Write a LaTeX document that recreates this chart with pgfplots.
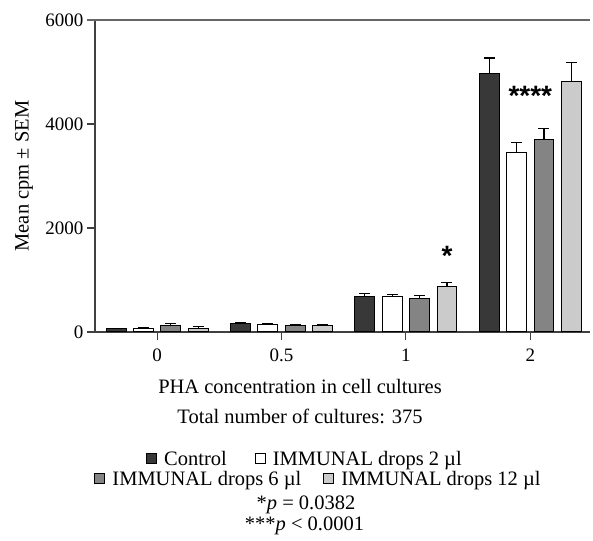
\documentclass[border=0pt]{standalone}
\usepackage{fontspec}
\setmainfont{Liberation Serif}
\newfontfamily\starfont{Liberation Sans}
\usepackage{pgfplots}
\pgfplotsset{compat=1.18}
\definecolor{cCtrl}{HTML}{383838}
\definecolor{cSix}{HTML}{848484}
\definecolor{cTwelve}{HTML}{CBCBCB}
\begin{document}
\begin{tikzpicture}
\begin{axis}[
  name=main,
  scale only axis, width=495pt, height=312pt,
  xmin=-0.5, xmax=3.48, ymin=0, ymax=6000,
  axis x line*=bottom, axis y line*=left,
  xtick={0,1,2,3}, xticklabels={0,0.5,1,2},
  ytick={0,2000,4000,6000},
  tick align=outside, major tick length=8pt,
  tick style={black!75, line width=1.1pt},
  axis line style={black!75, line width=1.3pt},
  scaled y ticks=false,
  yticklabel style={/pgf/number format/.cd, 1000 sep={}},
  xticklabel style={yshift=-5pt},
  /pgf/number format/assume math mode=true,
  tick label style={font=\fontsize{19}{22}\selectfont},
  ylabel={Mean cpm ± SEM},
  every axis y label/.style={at={(rel axis cs:0,0.5)}, xshift=-71pt, rotate=90, anchor=center, font=\fontsize{20.5}{24}\selectfont},
  xlabel={PHA concentration in cell cultures\\Total number of cultures: 375},
  every axis x label/.style={at={(rel axis cs:0,0)}, xshift=205pt, yshift=-70pt, anchor=center, align=center, font=\fontsize{20.5}{30}\selectfont},
  legend image code/.code={\draw[#1] (0pt,-5pt) rectangle (10pt,5pt);},
  legend columns=-1,
  legend style={at={(0,0)}, xshift=210pt, yshift=-127pt, anchor=center, draw=none, fill=none,
    font=\fontsize{20.5}{24}\selectfont,
    /tikz/every odd column/.append style={column sep=5pt},
    /tikz/every even column/.append style={column sep=26pt}},
  error bars/error bar style={line width=1.1pt, black},
  error bars/error mark options={rotate=90, mark size=5.5pt, line width=1.1pt, black},
]
\addplot[ybar, bar width=0.16, bar shift=0, fill=cCtrl, draw=black, line width=1pt,
  error bars/.cd, y dir=plus, y explicit]
  coordinates {(-0.33,70) +- (0,5) (0.67,155) +- (0,18) (1.67,680) +- (0,65) (2.67,4980) +- (0,290)};
\addplot[ybar, bar width=0.16, bar shift=0, fill=white, draw=black, line width=1pt,
  error bars/.cd, y dir=plus, y explicit]
  coordinates {(-0.11,75) +- (0,20) (0.89,150) +- (0,12) (1.89,680) +- (0,45) (2.89,3450) +- (0,200)};
\addplot[ybar, bar width=0.16, bar shift=0, fill=cSix, draw=black, line width=1pt,
  error bars/.cd, y dir=plus, y explicit]
  coordinates {(0.11,130) +- (0,25) (1.11,130) +- (0,6) (2.11,635) +- (0,63) (3.11,3710) +- (0,210)};
\addplot[ybar, bar width=0.16, bar shift=0, fill=cTwelve, draw=black, line width=1pt,
  error bars/.cd, y dir=plus, y explicit]
  coordinates {(0.33,75) +- (0,30) (1.33,130) +- (0,6) (2.33,870) +- (0,85) (3.33,4820) +- (0,370)};
\legend{Control, IMMUNAL drops 2 µl}
\node[anchor=base, font=\starfont\bfseries\fontsize{28}{28}\selectfont] at (axis cs:3,4352) {****};
\node[anchor=base, font=\starfont\bfseries\fontsize{28}{28}\selectfont] at (axis cs:2.33,1275) {*};
\end{axis}
\begin{axis}[
  at={(main.south west)}, anchor=south west,
  scale only axis, width=495pt, height=312pt, hide axis,
  xmin=0, xmax=1, ymin=0, ymax=1,
  legend image code/.code={\draw[#1] (0pt,-5pt) rectangle (10pt,5pt);},
  legend columns=-1,
  legend style={at={(0,0)}, xshift=223.5pt, yshift=-147pt, anchor=center, draw=none, fill=none,
    font=\fontsize{20.5}{24}\selectfont,
    /tikz/every odd column/.append style={column sep=5pt},
    /tikz/every even column/.append style={column sep=20pt}},
]
\addlegendimage{fill=cSix, draw=black, line width=1pt}
\addlegendentry{IMMUNAL drops 6 µl}
\addlegendimage{fill=cTwelve, draw=black, line width=1pt}
\addlegendentry{IMMUNAL drops 12 µl}
\end{axis}
\draw[black!60, line width=1.3pt] ([xshift=-8pt]main.north west) -- (main.north east);
\node[anchor=base, font=\fontsize{20.5}{24}\selectfont] at ([xshift=211pt,yshift=-178pt]main.south west) {*\textit{p} = 0.0382};
\node[anchor=base, font=\fontsize{20.5}{24}\selectfont] at ([xshift=209.5pt,yshift=-199pt]main.south west) {***\textit{p} < 0.0001};
\pgfresetboundingbox
\path ([xshift=-95pt,yshift=-209pt]main.south west) rectangle ([xshift=3pt,yshift=20pt]main.north east);
\end{tikzpicture}
\end{document}
